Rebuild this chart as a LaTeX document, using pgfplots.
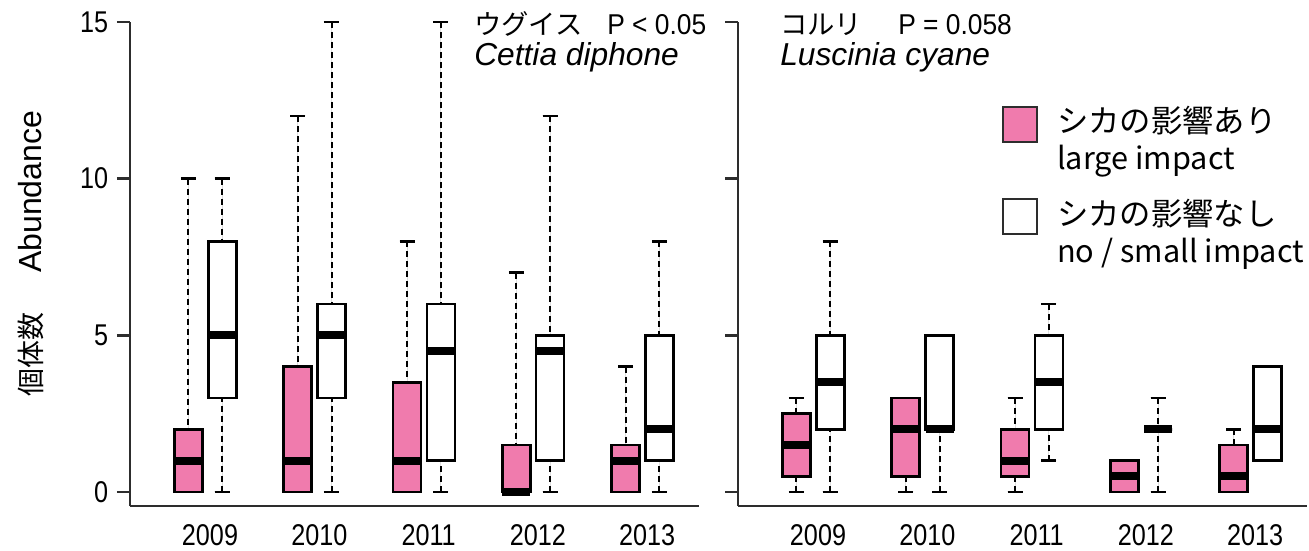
\documentclass[border=0pt]{standalone}
\usepackage{pgfplots}
\pgfplotsset{compat=1.18}
\usepgfplotslibrary{statistics}
\usepackage{fontspec}
\setmainfont{Liberation Sans}
\newfontfamily\narrowfont{Liberation Sans}[FakeStretch=0.84]
\newfontfamily\titlefont{Liberation Sans}[FakeStretch=0.92]
\newfontfamily\cjk{Noto Sans CJK JP}
\definecolor{pinkc}{RGB}{240,123,173}
\definecolor{axisgray}{RGB}{45,45,45}

\pgfplotsset{
  panel/.style={
    scale only axis, width=426.75pt, height=363pt,
    xmin=0.268, xmax=5.474, ymin=-0.447, ymax=15,
    axis x line*=bottom, axis y line*=left,
    axis line style={-, line width=2pt, color=axisgray},
    xtick={1,2,3,4,5}, xticklabels={2009,2010,2011,2012,2013},
    ytick={0,5,10,15},
    xtick style={draw=none},
    ytick style={line width=2pt, color=axisgray},
    tick align=outside, major tick length=9.75pt,
    /pgf/number format/assume math mode=true,
    tick label style={font=\narrowfont\fontsize{22.5pt}{24pt}\selectfont, text=black},
    xticklabel style={inner sep=0pt, yshift=-4pt},
    yticklabel style={inner sep=0pt, xshift=-6.5pt},
    clip=false,
    boxplot/draw direction=y,
    boxplot/draw/lower whisker/.code={%
      \draw[line width=1.5pt, dash pattern=on 4.5pt off 3pt, black]
        (boxplot box cs:\pgfplotsboxplotvalue{lower whisker},0.5) --
        (boxplot box cs:\pgfplotsboxplotvalue{lower quartile},0.5);
      \draw[line width=2pt, solid, black]
        (boxplot box cs:\pgfplotsboxplotvalue{lower whisker},0.23) --
        (boxplot box cs:\pgfplotsboxplotvalue{lower whisker},0.77);
    },
    boxplot/draw/upper whisker/.code={%
      \draw[line width=1.5pt, dash pattern=on 4.5pt off 3pt, black]
        (boxplot box cs:\pgfplotsboxplotvalue{upper whisker},0.5) --
        (boxplot box cs:\pgfplotsboxplotvalue{upper quartile},0.5);
      \draw[line width=2pt, solid, black]
        (boxplot box cs:\pgfplotsboxplotvalue{upper whisker},0.23) --
        (boxplot box cs:\pgfplotsboxplotvalue{upper whisker},0.77);
    },
    boxplot/every median/.style={line width=6pt, black},
  },
  pinkbox/.style={draw=black, fill=pinkc, line width=2pt, solid},
  whitebox/.style={draw=black, fill=white, line width=2pt, solid},
}

% lower whisker, lower quartile, median, upper quartile, upper whisker
\newcommand\bx[7]{%
  \addplot[#7, boxplot prepared={draw position=#1, box extend=0.256,
    lower whisker=#2, lower quartile=#3, median=#4,
    upper quartile=#5, upper whisker=#6}] coordinates {};}

\begin{document}
\begin{tikzpicture}
\path[use as bounding box] (-97.5pt,-33pt) rectangle (884.25pt,379.5pt);

% ---------- Left panel: Cettia diphone ----------
\begin{axis}[panel,
  ylabel={{\cjk\fontsize{21pt}{22pt}\selectfont 個体数}\hspace{30pt}{\fontsize{24pt}{26pt}\selectfont Abundance}},
  ylabel style={at={(axis description cs:-0.174,0.521)}, anchor=center},
]
% large impact (pink)
\bx{0.803}{0}{0}{1}{2}{10}{pinkbox}
\bx{1.803}{0}{0}{1}{4}{12}{pinkbox}
\bx{2.803}{0}{0}{1}{3.5}{8}{pinkbox}
\bx{3.803}{0}{0}{0}{1.5}{7}{pinkbox}
\bx{4.803}{0}{0}{1}{1.5}{4}{pinkbox}
% no / small impact (white)
\bx{1.112}{0}{3}{5}{8}{10}{whitebox}
\bx{2.112}{0}{3}{5}{6}{15}{whitebox}
\bx{3.112}{0}{1}{4.5}{6}{15}{whitebox}
\bx{4.112}{0}{1}{4.5}{5}{12}{whitebox}
\bx{5.112}{0}{1}{2}{5}{8}{whitebox}
\end{axis}

% ---------- Right panel: Luscinia cyane ----------
\begin{axis}[panel, at={(456pt,0pt)}, yticklabels={}]
\bx{0.803}{0}{0.5}{1.5}{2.5}{3}{pinkbox}
\bx{1.803}{0}{0.5}{2}{3}{3}{pinkbox}
\bx{2.803}{0}{0.5}{1}{2}{3}{pinkbox}
\bx{3.803}{0}{0}{0.5}{1}{1}{pinkbox}
\bx{4.803}{0}{0}{0.5}{1.5}{2}{pinkbox}
\bx{1.112}{0}{2}{3.5}{5}{8}{whitebox}
\bx{2.112}{0}{2}{2}{5}{5}{whitebox}
\bx{3.112}{1}{2}{3.5}{5}{6}{whitebox}
\bx{4.112}{0}{2}{2}{2}{3}{whitebox}
\bx{5.112}{1}{1}{2}{4}{4}{whitebox}
\end{axis}

% ---------- Titles and legend (pixel frame) ----------
\begin{scope}[shift={(-97.5pt,379.5pt)}, x=0.75pt, y=-0.75pt]
\node[anchor=base west, inner sep=0pt] at (474,35) {\cjk\fontsize{20.5pt}{22pt}\selectfont ウグイス};
\node[anchor=base west, inner sep=0pt] at (607,35) {\titlefont\fontsize{21.5pt}{23pt}\selectfont P < 0.05};
\node[anchor=base west, inner sep=0pt] at (474,66) {\fontsize{23.8pt}{25pt}\selectfont\itshape Cettia diphone};
\node[anchor=base west, inner sep=0pt] at (780,35) {\cjk\fontsize{20.5pt}{22pt}\selectfont コルリ};
\node[anchor=base west, inner sep=0pt] at (898,35) {\titlefont\fontsize{21.5pt}{23pt}\selectfont P = 0.058};
\node[anchor=base west, inner sep=0pt] at (780,66) {\fontsize{23.8pt}{25pt}\selectfont\itshape Luscinia cyane};

\draw[line width=2pt, draw=axisgray, fill=pinkc] (1003,107) rectangle (1037,142);
\draw[line width=2pt, draw=axisgray, fill=white] (1003,199) rectangle (1037,234);
\node[anchor=base west, inner sep=0pt] at (1057,133) {\cjk\fontsize{23.5pt}{25pt}\selectfont シカの影響あり};
\node[anchor=base west, inner sep=0pt] at (1057,170) {\cjk\fontsize{23pt}{25pt}\selectfont large impact};
\node[anchor=base west, inner sep=0pt] at (1057,226) {\cjk\fontsize{23.5pt}{25pt}\selectfont シカの影響なし};
\node[anchor=base west, inner sep=0pt] at (1057,263) {\cjk\fontsize{23pt}{25pt}\selectfont no / small impact};
\end{scope}
\end{tikzpicture}
\end{document}
